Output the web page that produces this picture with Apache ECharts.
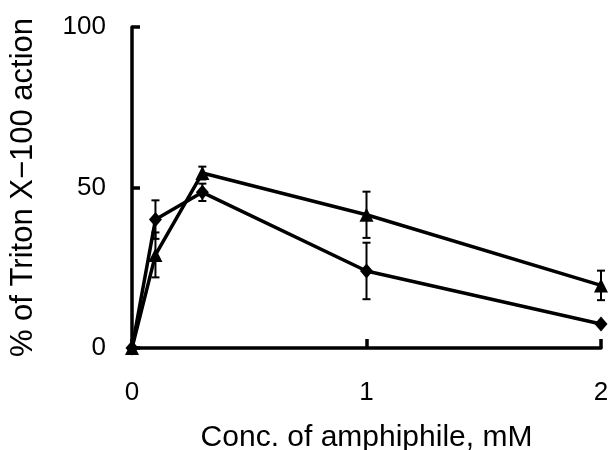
<!DOCTYPE html>
<html>
<head>
<meta charset="utf-8">
<script src="https://cdn.jsdelivr.net/npm/echarts@6/dist/echarts.min.js"></script>
<style>
  html, body { margin: 0; padding: 0; background: #fff; }
  #chart { width: 611px; height: 450px; }
</style>
</head>
<body>
<div id="chart"></div>
<script>
// data
var xTicks = [0, 1, 2]
var yTicks = [0, 50, 100]
var conc = [0, 0.1, 0.3, 1, 2]
var diamondVals = [0, 40, 48.5, 24, 7.5]
var diamondErr = [0, 6, 2.7, 8.8, 0]
var triangleVals = [0, 29, 54.5, 41.5, 19.5]
var triangleErr = [0, 7, 2, 7.2, 4.6]

function pairs (xs, ys) {
  return xs.map(function (x, i) { return [x, ys[i]] })
}
function errRows (xs, ys, es) {
  var rows = []
  xs.forEach(function (x, i) {
    if (es[i] > 0) rows.push([x, ys[i] - es[i], ys[i] + es[i]])
  })
  return rows
}

// error bar drawn from the axis scales
function renderErr (params, api) {
  var lo = api.coord([api.value(0), api.value(1)])
  var hi = api.coord([api.value(0), api.value(2)])
  var cap = 4
  var st = { stroke: '#000', lineWidth: 2 }
  return {
    type: 'group',
    children: [
      { type: 'line', shape: { x1: lo[0], y1: lo[1], x2: hi[0], y2: hi[1] }, style: st },
      { type: 'line', shape: { x1: lo[0] - cap, y1: lo[1], x2: lo[0] + cap, y2: lo[1] }, style: st },
      { type: 'line', shape: { x1: hi[0] - cap, y1: hi[1], x2: hi[0] + cap, y2: hi[1] }, style: st }
    ]
  }
}

var chart = echarts.init(document.getElementById('chart'), null, { renderer: 'canvas' })
var font = 'Liberation Sans, Arial, sans-serif'

var option = {
  backgroundColor: '#fff',
  animation: false,
  grid: { left: 132, right: 10, top: 27, bottom: 102, containLabel: false, outerBoundsMode: 'none' },
  xAxis: {
    type: 'value',
    min: 0,
    max: 2,
    interval: 1,
    name: 'Conc. of amphiphile, mM',
    nameLocation: 'middle',
    nameGap: 75,
    nameTextStyle: { fontFamily: font, fontSize: 30, color: '#000' },
    axisLine: { show: true, lineStyle: { color: '#000', width: 3.5 } },
    axisTick: { show: true, inside: true, length: 9, lineStyle: { color: '#000', width: 3.5 } },
    axisLabel: {
      margin: 32,
      fontFamily: font,
      fontSize: 26,
      color: '#000',
      formatter: function (v) { return xTicks.indexOf(v) >= 0 ? String(v) : '' }
    },
    splitLine: { show: false }
  },
  yAxis: {
    type: 'value',
    min: 0,
    max: 100,
    interval: 50,
    name: '% of Triton X\u2212100 action',
    nameLocation: 'middle',
    nameGap: 93,
    nameTextStyle: { fontFamily: font, fontSize: 31, color: '#000' },
    axisLine: { show: true, lineStyle: { color: '#000', width: 3.5 } },
    axisTick: { show: true, inside: true, length: 8, lineStyle: { color: '#000', width: 3.5 } },
    axisLabel: {
      margin: 26,
      fontFamily: font,
      fontSize: 26,
      color: '#000',
      formatter: function (v) { return yTicks.indexOf(v) >= 0 ? String(v) : '' }
    },
    splitLine: { show: false }
  },
  series: [
    {
      type: 'custom',
      renderItem: renderErr,
      data: errRows(conc, diamondVals, diamondErr),
      z: 1
    },
    {
      type: 'custom',
      renderItem: renderErr,
      data: errRows(conc, triangleVals, triangleErr),
      z: 1
    },
    {
      name: 'diamond',
      type: 'line',
      data: pairs(conc, diamondVals),
      symbol: 'diamond',
      symbolSize: [13, 15],
      showAllSymbol: true,
      lineStyle: { color: '#000', width: 3.5 },
      itemStyle: { color: '#000' },
      z: 3
    },
    {
      name: 'triangle',
      type: 'line',
      data: pairs(conc, triangleVals),
      symbol: 'triangle',
      symbolSize: 14,
      showAllSymbol: true,
      lineStyle: { color: '#000', width: 3.5 },
      itemStyle: { color: '#000' },
      z: 3
    }
  ]
}

chart.setOption(option)
</script>
</body>
</html>
